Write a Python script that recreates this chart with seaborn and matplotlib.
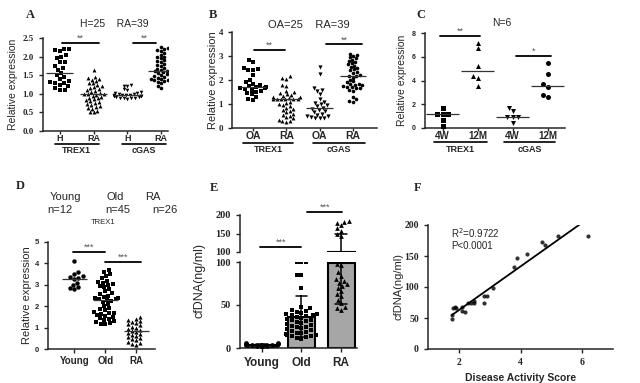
import numpy as np
import pandas as pd
import seaborn as sns
import matplotlib.pyplot as plt
import matplotlib.transforms as mtransforms

# ---- panel A: TREX1 / cGAS, healthy vs RA
a_order = ["TREX1_H", "TREX1_RA", "cGAS_H", "cGAS_RA"]
a_ticks = ["H", "RA", "H", "RA"]
a_trex1_h = [2.2, 2.2, 2.18, 2.15, 2.05, 2.0, 1.95, 1.85, 1.85, 1.75, 1.7, 1.65, 1.55,
             1.5, 1.45, 1.4, 1.35, 1.32, 1.3, 1.28, 1.25, 1.2, 1.15, 1.1, 1.1]
a_trex1_ra = [1.65, 1.45, 1.42, 1.4, 1.38, 1.35, 1.3, 1.28, 1.25, 1.2, 1.18, 1.15, 1.12,
              1.1, 1.08, 1.05, 1.02, 1.0, 1.0, 1.0, 0.98, 0.95, 0.92, 0.9, 0.88, 0.85,
              0.82, 0.8, 0.78, 0.75, 0.72, 0.7, 0.68, 0.65, 0.62, 0.6, 0.55, 0.52, 0.5]
a_cgas_h = [1.25, 1.22, 1.2, 1.12, 1.1, 1.05, 1.03, 1.02, 1.0, 0.99, 0.98, 0.98, 0.97,
            0.96, 0.95, 0.95, 0.94, 0.93, 0.92, 0.91, 0.9, 0.9, 0.89, 0.88, 0.87]
a_cgas_ra = [2.25, 2.22, 2.2, 2.18, 2.15, 2.1, 2.05, 2.0, 1.98, 1.95, 1.9, 1.88, 1.85,
             1.8, 1.78, 1.75, 1.7, 1.68, 1.65, 1.62, 1.6, 1.58, 1.55, 1.52, 1.5, 1.48,
             1.45, 1.43, 1.42, 1.4, 1.4, 1.38, 1.37, 1.36, 1.35, 1.33, 1.3, 1.2, 1.15]

# ---- panel B: OA vs RA
b_order = ["TREX1_OA", "TREX1_RA", "cGAS_OA", "cGAS_RA"]
b_ticks = ["OA", "RA", "OA", "RA"]
b_trex1_oa = [2.85, 2.75, 2.5, 2.45, 2.42, 2.4, 2.2, 2.0, 1.9, 1.85, 1.8, 1.75, 1.72,
              1.7, 1.68, 1.65, 1.62, 1.6, 1.55, 1.5, 1.45, 1.4, 1.3, 1.2, 1.15]
b_trex1_ra = [2.15, 2.1, 2.05, 1.8, 1.75, 1.55, 1.5, 1.45, 1.4, 1.38, 1.35, 1.3, 1.28,
              1.25, 1.22, 1.2, 1.2, 1.2, 1.2, 1.2, 1.1, 1.05, 1.0, 0.95, 0.9, 0.85,
              0.8, 0.75, 0.7, 0.65, 0.6, 0.55, 0.5, 0.45, 0.4, 0.35, 0.3, 0.28, 0.25]
b_cgas_oa = [2.55, 2.25, 1.65, 1.6, 1.55, 1.4, 1.2, 1.1, 1.05, 1.0, 0.95, 0.9, 0.85,
             0.8, 0.75, 0.7, 0.65, 0.6, 0.55, 0.5, 0.48, 0.45, 0.42, 0.4, 0.4]
b_cgas_ra = [3.1, 3.05, 3.0, 2.95, 2.9, 2.85, 2.8, 2.75, 2.7, 2.65, 2.6, 2.55, 2.5,
             2.45, 2.4, 2.35, 2.3, 2.2, 2.18, 2.15, 2.1, 2.0, 1.95, 1.9, 1.85, 1.82,
             1.8, 1.78, 1.75, 1.72, 1.7, 1.68, 1.65, 1.6, 1.55, 1.3, 1.2, 1.12, 1.1]

# ---- panel C: mice 4W vs 12M
c_order = ["TREX1_4W", "TREX1_12M", "cGAS_4W", "cGAS_12M"]
c_ticks = ["4W", "12M", "4W", "12M"]
c_trex1_4w = [1.65, 1.2, 1.2, 1.15, 0.7, 0.15]
c_trex1_12m = [7.2, 6.7, 5.2, 4.4, 4.25, 3.5]
c_cgas_4w = [1.72, 1.41, 0.95, 0.93, 0.9, 0.42]
c_cgas_12m = [5.45, 4.55, 3.67, 3.42, 2.77, 2.63]

# ---- panel D: TREX1 by age
d_order = ["Young", "Old", "RA"]
d_young = [4.1, 3.6, 3.5, 3.4, 3.35, 3.3, 3.25, 3.1, 3.0, 2.9, 2.85, 2.8]
d_old = [3.7, 3.6, 3.5, 3.4, 3.3, 3.2, 3.15, 3.1, 3.05, 3.0,
         2.95, 2.9, 2.8, 2.7, 2.6, 2.55, 2.5, 2.45, 2.4, 2.38,
         2.35, 2.32, 2.3, 2.25, 2.2, 2.1, 2.0, 1.9, 1.85, 1.8,
         1.75, 1.7, 1.68, 1.65, 1.6, 1.55, 1.5, 1.45, 1.4, 1.35,
         1.3, 1.25, 1.2, 1.18, 1.15]
d_ra = [1.5, 1.4, 1.35, 1.3, 1.25, 1.2, 1.15, 1.1, 1.05, 1.0,
        0.95, 0.9, 0.85, 0.8, 0.75, 0.7, 0.65, 0.6, 0.55, 0.5,
        0.45, 0.4, 0.35, 0.3, 0.25, 0.2]

# ---- panel E: cfDNA
e_order = ["Young", "Old", "RA"]
e_young = [1.5, 2.0, 2.5, 3.0, 3.2, 3.5, 3.8, 4.0, 4.5, 5.0, 5.5, 6.0]
e_old = [100, 100, 100, 85, 85, 70,
         11, 12, 13, 14, 14, 15, 15, 16, 17, 18, 19, 20, 21, 22, 23, 24, 25, 26,
         27, 28, 29, 30, 31, 32, 33, 34, 35, 36, 37, 38, 38, 39, 40, 41, 42, 43,
         44, 46, 48]
e_ra = [184, 182, 178, 172, 165, 158, 150, 142,
        98, 96, 88, 84, 80, 78, 76, 74, 72, 70, 66, 63, 60, 56, 52, 48, 46, 44]

# ---- panel F: cfDNA vs disease activity
f_das = [1.78, 1.78, 1.8, 1.89, 1.9, 2.1, 2.1, 2.2, 2.3, 2.4, 2.5, 2.5, 2.8, 2.8,
         2.9, 3.1, 3.8, 3.9, 4.2, 4.7, 4.8, 5.2, 6.2]
f_cfdna = [48, 55, 66, 68, 66, 68, 62, 60, 74, 74, 77, 74, 75, 85,
           85, 99, 133, 146, 153, 173, 168, 183, 183]

SERIF = "Liberation Serif"
SANS = "Liberation Sans"

sns.set_style("ticks")
plt.rcParams["font.family"] = [SANS, "DejaVu Sans"]
plt.rcParams["axes.linewidth"] = 1.1
plt.rcParams["xtick.major.width"] = 1.0
plt.rcParams["ytick.major.width"] = 1.0
plt.rcParams["xtick.major.size"] = 3
plt.rcParams["ytick.major.size"] = 3

fig = plt.figure(figsize=(6.4, 3.83), dpi=100)
W, H = 640.0, 383.0


def px_axes(x0, y0, x1, y1):
    # axes from pixel box (top-left origin)
    return fig.add_axes([x0 / W, 1 - y1 / H, (x1 - x0) / W, (y1 - y0) / H])


def ftext(x, y, s, **kw):
    fig.text(x / W, 1 - y / H, s, **kw)


def dot_panel(ax, order, groups, markers, sizes, half=0.4):
    df = pd.DataFrame([(g, v) for g, vals in zip(order, groups) for v in vals],
                      columns=["grp", "val"])
    for g, m, s in zip(order, markers, sizes):
        sns.swarmplot(data=df[df.grp == g], x="grp", y="val", order=order,
                      marker=m, size=s, color="black", linewidth=0, ax=ax,
                      warn_thresh=1)
    for i, vals in enumerate(groups):
        ax.hlines(np.median(vals), i - half, i + half, color="#333333", lw=0.9,
                  zorder=5)
    sns.despine(ax=ax)
    ax.set_xlabel("")
    ax.tick_params(axis="x", length=2, pad=0)


def sig(ax, x1, x2, y, txt, fs=6.5):
    ax.plot([x1, x2], [y, y], color="black", lw=1.3, clip_on=False)
    ax.text((x1 + x2) / 2, y, txt, ha="center", va="bottom", fontsize=fs,
            color="#555555", clip_on=False)


def group_labels(ax, spans, names, y_line, y_text, fs=6.5):
    tr = mtransforms.blended_transform_factory(ax.transData, ax.transAxes)
    for (x1, x2), name in zip(spans, names):
        ax.plot([x1, x2], [y_line, y_line], color="black", lw=1.2,
                transform=tr, clip_on=False)
        ax.text((x1 + x2) / 2, y_text, name, transform=tr, ha="center",
                va="top", fontsize=fs, fontweight="bold")


def style_ticks(ax, family, size):
    for lab in ax.get_yticklabels():
        lab.set_fontfamily(family)
        lab.set_fontweight("bold")
        lab.set_fontsize(size)


# ---------------- A
axA = px_axes(43, 38, 168, 131)
dot_panel(axA, a_order, [a_trex1_h, a_trex1_ra, a_cgas_h, a_cgas_ra],
          ["s", "^", "v", "o"], [3.4, 2.8, 2.6, 2.6])
axA.set_xlim(-0.5, 3.2)
axA.set_ylim(0, 2.5)
axA.set_yticks(np.arange(0, 2.51, 0.5))
axA.set_yticklabels([f"{t:.1f}" for t in np.arange(0, 2.51, 0.5)])
style_ticks(axA, SERIF, 6.5)
axA.set_xticks(range(4))
axA.set_xticklabels(a_ticks, fontsize=6.5, fontweight="bold")
axA.set_ylabel("Relative expression", fontsize=7.5)
axA.yaxis.set_label_coords(-0.2, 0.5)
sig(axA, 0.05, 1.15, 2.37, "**")
sig(axA, 2.15, 2.85, 2.37, "**")
group_labels(axA, [(-0.15, 1.15), (1.85, 3.15)], ["TREX1", "cGAS"], -0.145, -0.165)
ftext(114, 24, "H=25    RA=39", ha="center", va="center", fontsize=7.5)

# ---------------- B
axB = px_axes(232, 32, 377, 128)
dot_panel(axB, b_order, [b_trex1_oa, b_trex1_ra, b_cgas_oa, b_cgas_ra],
          ["s", "^", "v", "o"], [3.4, 2.8, 3.0, 2.6])
axB.set_xlim(-0.63, 3.72)
axB.set_ylim(0, 4)
axB.set_yticks(range(5))
style_ticks(axB, SERIF, 6.5)
axB.set_xticks(range(4))
axB.set_xticklabels(b_ticks, fontsize=7.5, fontweight="bold")
axB.set_ylabel("Relative expression", fontsize=8)
axB.yaxis.set_label_coords(-0.1, 0.5)
sig(axB, 0.03, 0.96, 3.25, "**")
sig(axB, 2.2, 3.27, 3.49, "**")
group_labels(axB, [(-0.3, 1.2), (1.8, 3.36)], ["TREX1", "cGAS"], -0.152, -0.175)
ftext(309, 25, "OA=25    RA=39", ha="center", va="center", fontsize=8)

# ---------------- C
axC = px_axes(425, 33, 565, 128)
dot_panel(axC, c_order, [c_trex1_4w, c_trex1_12m, c_cgas_4w, c_cgas_12m],
          ["s", "^", "v", "o"], [3.6, 3.6, 3.6, 3.6], half=0.48)
axC.set_xlim(-0.5, 3.5)
axC.set_ylim(0, 8)
axC.set_yticks(range(0, 9, 2))
style_ticks(axC, SANS, 5)
axC.set_xticks(range(4))
axC.set_xticklabels(c_ticks, fontsize=7, fontweight="bold")
axC.set_ylabel("Relative expression", fontsize=7.5)
axC.yaxis.set_label_coords(-0.13, 0.5)
sig(axC, -0.06, 1.06, 7.75, "**")
sig(axC, 2.1, 3.1, 6.07, "*")
group_labels(axC, [(-0.23, 1.28), (1.77, 3.2)], ["TREX1", "cGAS"], -0.152, -0.175)
ftext(502, 23, "N=6", ha="center", va="center", fontsize=7.5)

# ---------------- D
axD = px_axes(48, 242, 155, 349)
dot_panel(axD, d_order, [d_young, d_old, d_ra], ["o", "s", "^"], [3.2, 3.2, 3.0])
axD.set_xlim(-0.85, 2.6)
axD.set_ylim(0, 5)
axD.set_yticks(range(6))
style_ticks(axD, SANS, 5.5)
axD.set_xticks(range(3))
axD.set_xticklabels(d_order, fontsize=7, fontweight="bold")
axD.tick_params(axis="x", length=3, pad=2)
axD.set_ylabel("Relative expression", fontsize=8)
axD.yaxis.set_label_coords(-0.15, 0.5)
sig(axD, -0.06, 1.0, 4.55, "***")
sig(axD, 1.0, 2.16, 4.08, "***")
ftext(103, 223, "TREX1", ha="center", va="center", fontsize=5.5)
for x, name in zip([65, 115, 153], ["Young", "Old", "RA"]):
    ftext(x, 197, name, ha="center", va="center", fontsize=8)
for x, name in zip([60, 118, 165], ["n=12", "n=45", "n=26"]):
    ftext(x, 210, name, ha="center", va="center", fontsize=8)

# ---------------- E (broken axis)
e_df = pd.DataFrame([(g, v) for g, vals in zip(e_order, [e_young, e_old, e_ra])
                     for v in vals], columns=["grp", "val"])
axE_top = px_axes(240, 215, 357, 252)
axE = px_axes(240, 262, 357, 348)
for ax, part in ((axE_top, e_df[e_df.val > 100]), (axE, e_df[e_df.val <= 100])):
    sns.barplot(data=e_df, x="grp", y="val", order=e_order, errorbar="sd",
                capsize=0.3, color="#a6a6a6", saturation=1, edgecolor="black",
                linewidth=1.5, width=0.68,
                err_kws={"color": "black", "linewidth": 1.1}, ax=ax)
    for g, m in zip(e_order, ["o", "s", "^"]):
        sub = part[part.grp == g]
        if len(sub):
            sns.swarmplot(data=sub, x="grp", y="val", order=e_order,
                          marker=m, size=3.4, color="black", linewidth=0, ax=ax,
                          warn_thresh=1)
    ax.set_xlim(-0.55, 2.4)
    ax.set_xlabel("")
    ax.set_ylabel("")
sns.despine(ax=axE)
sns.despine(ax=axE_top, bottom=True)
axE_top.set_ylim(100, 200)
axE_top.set_yticks([100, 150, 200])
axE_top.set_xticks([])
axE.set_ylim(0, 100)
axE.set_yticks([0, 50, 100])
style_ticks(axE_top, SERIF, 7.5)
style_ticks(axE, SERIF, 7.5)
axE.set_xticks(range(3))
axE.set_xticklabels(e_order, fontsize=8.5, fontweight="bold")
sig(axE_top, -0.05, 1.0, 114, "***")
sig(axE_top, 1.15, 2.03, 209, "***")
ftext(200, 281, "cfDNA(ng/ml)", rotation=90, ha="center", va="center", fontsize=9)

# ---------------- F
f_df = pd.DataFrame({"das": f_das, "cfdna": f_cfdna})
axF = px_axes(428, 225, 613, 349)
sns.regplot(data=f_df, x="das", y="cfdna", ci=None, ax=axF,
            scatter_kws={"s": 9, "color": "black", "linewidths": 0},
            line_kws={"color": "black", "lw": 1.3})
sns.despine(ax=axF)
axF.set_xlim(1, 7)
axF.set_ylim(0, 200)
axF.set_xticks([2, 4, 6])
axF.set_yticks(range(0, 201, 50))
style_ticks(axF, SERIF, 7)
for lab in axF.get_xticklabels():
    lab.set_fontfamily(SERIF)
    lab.set_fontweight("bold")
    lab.set_fontsize(7)
axF.set_xlabel("Disease Activity Score", fontsize=7.5, fontweight="bold")
axF.set_ylabel("cfDNA(ng/ml)", fontsize=8)
axF.yaxis.set_label_coords(-0.135, 0.5)
axF.text(0.125, 0.99, "R$^2$=0.9722\nP<0.0001", transform=axF.transAxes,
         ha="left", va="top", fontsize=7, linespacing=1.1)

# ---------------- panel letters
for (x, y), letter in zip([(30, 15), (213, 15), (421, 15), (20, 186), (214, 188), (418, 188)],
                          "ABCDEF"):
    ftext(x, y, letter, ha="center", va="center", fontsize=9,
          fontweight="bold", family=SERIF)

fig.savefig("out.png", dpi=100, facecolor="white")
